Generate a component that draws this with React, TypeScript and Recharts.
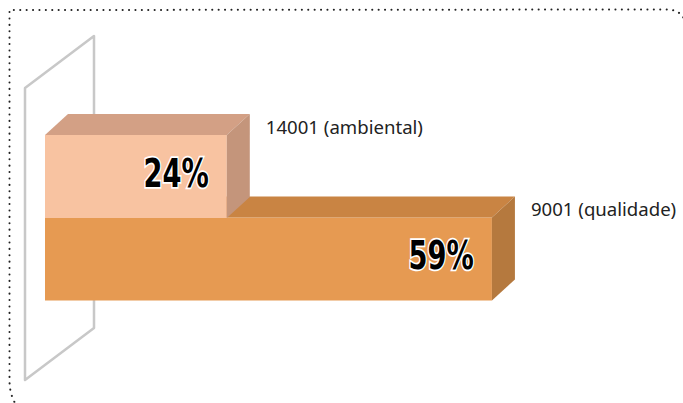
import React from 'react';
import { BarChart, Bar, XAxis, YAxis, LabelList } from 'recharts';

// Data (bottom bar first; axis reversed so it is drawn first and sits underneath)
const categories = ['9001 (qualidade)', '14001 (ambiental)'];
const values = [59, 24];
const fronts = ['#E69A52', '#F8C3A1'];
const tops = ['#C98443', '#D3A085'];
const sides = ['#B5793E', '#C4957B'];

const data = categories.map((name, i) => ({ name, value: values[i], idx: i }));

const DX = 23;
const DY = 21;

const Box3D = (props: any) => {
  const { x, y, width, height, payload } = props;
  const i = payload.idx;
  const w = width;
  const h = height;
  return (
    <g>
      <rect x={x} y={y} width={w} height={h} fill={fronts[i]} />
      <polygon
        points={`${x},${y} ${x + DX},${y - DY} ${x + w + DX},${y - DY} ${x + w},${y}`}
        fill={tops[i]}
      />
      <polygon
        points={`${x + w},${y} ${x + w + DX},${y - DY} ${x + w + DX},${y + h - DY} ${x + w},${y + h}`}
        fill={sides[i]}
      />
    </g>
  );
};

const NameLabel = (props: any) => {
  const { x, y, width, value } = props;
  return (
    <text
      x={x + width + 39}
      y={y - 9}
      dominantBaseline="central"
      fontFamily="'Noto Sans', sans-serif"
      fontSize={18.6}
      fill="#222"
    >
      {value}
    </text>
  );
};

const PctLabel = (props: any) => {
  const { x, y, width, height, value } = props;
  const ax = x + width - 18;
  const ay = y + height / 2 - 3;
  return (
    <text
      transform={`translate(${ax},${ay}) scale(0.7,1)`}
      x={0}
      y={0}
      textAnchor="end"
      dominantBaseline="central"
      fontFamily="'DejaVu Sans', sans-serif"
      fontWeight="bold"
      fontSize={39}
      fill="#000"
      stroke="#fff"
      strokeWidth={3.5}
      paintOrder="stroke"
    >
      {value}%
    </text>
  );
};

export default function App() {
  return (
    <div style={{ position: 'absolute', left: 0, top: 0, width: 683, height: 403, background: '#fff', overflow: 'hidden' }}>
      <svg width={683} height={403} style={{ position: 'absolute', left: 0, top: 0 }}>
        <path
          d="M 22 412 Q 9.5 400 9.5 380 L 9.5 10 L 666 9.5 Q 686 9.5 686 29.5 L 686 420"
          fill="none"
          stroke="#222"
          strokeWidth={2}
          strokeDasharray="0.1 6.3"
          strokeLinecap="round"
        />
        <polygon
          points="25,88 94,36 94,328 25,380"
          fill="none"
          stroke="#C8C8C8"
          strokeWidth={2.5}
          strokeLinejoin="round"
        />
      </svg>
      <div style={{ position: 'absolute', left: 0, top: 0 }}>
        <BarChart
          width={683}
          height={403}
          data={data}
          layout="vertical"
          margin={{ top: 135, bottom: 103, left: 45, right: 32 }}
          barCategoryGap={0}
        >
          <XAxis type="number" domain={[0, 80]} hide />
          <YAxis type="category" dataKey="name" reversed hide />
          <Bar dataKey="value" shape={<Box3D />} isAnimationActive={false}>
            <LabelList dataKey="name" content={<NameLabel />} />
            <LabelList dataKey="value" content={<PctLabel />} />
          </Bar>
        </BarChart>
      </div>
    </div>
  );
}
